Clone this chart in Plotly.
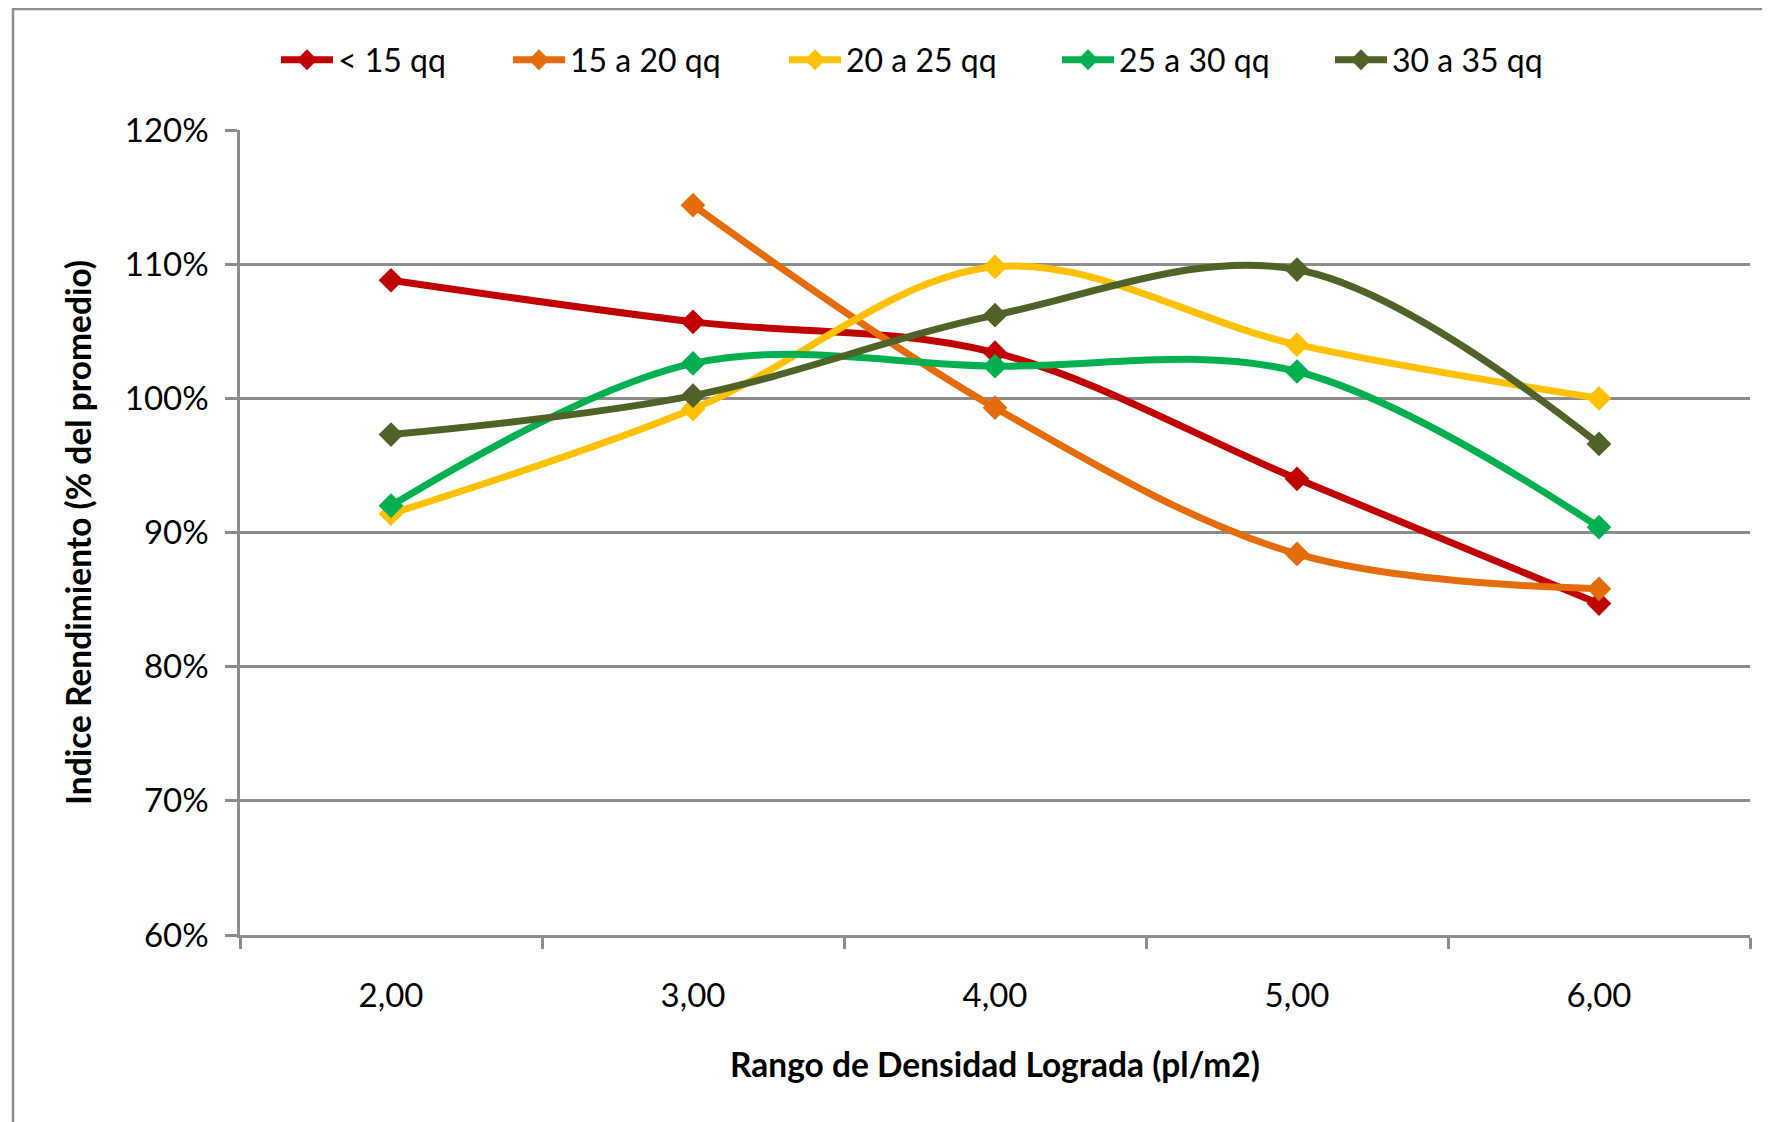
import plotly.graph_objects as go

categories = ["2,00", "3,00", "4,00", "5,00", "6,00"]
series_names = ["< 15 qq", "15 a 20 qq", "20 a 25 qq", "25 a 30 qq", "30 a 35 qq"]
s_lt15 = [1.088, 1.057, 1.034, 0.940, 0.847]
s_15_20 = [None, 1.144, 0.993, 0.884, 0.858]
s_20_25 = [0.914, 0.992, 1.098, 1.040, 1.000]
s_25_30 = [0.920, 1.026, 1.024, 1.020, 0.904]
s_30_35 = [0.973, 1.002, 1.062, 1.096, 0.966]
colors = ["#C00000", "#E46C0A", "#FFC000", "#00B050", "#4F6228"]
legend_widths = [165, 209, 206, 206, 200]
y_ticks = [0.6, 0.7, 0.8, 0.9, 1.0, 1.1, 1.2]
y_ticktext = ["60%", "70%", "80%", "90%", "100%", "110%", "120%"]

FONT = "Lato"
GRAY = "#8c8c8c"

# plot area in figure pixels
L, R, T, B = 232, 1742, 122, 927
PW, PH = R - L, B - T

fig = go.Figure()
for name, vals, col, lw in zip(series_names, [s_lt15, s_15_20, s_20_25, s_25_30, s_30_35], colors, legend_widths):
    fig.add_trace(go.Scatter(
        x=categories, y=vals, name=name, mode="lines+markers",
        line=dict(color=col, width=7, shape="spline", smoothing=1.0),
        marker=dict(symbol="diamond", size=19, color=col),
        connectgaps=False, legendwidth=lw,
    ))

fig.update_layout(
    width=1770, height=1122,
    margin=dict(l=L, r=1770 - R, t=T, b=1122 - B, autoexpand=False),
    paper_bgcolor="white", plot_bgcolor="white",
    font=dict(family=FONT, size=32, color="black"),
    showlegend=True,
    legend=dict(orientation="h", x=(268 - L) / PW, xanchor="left", y=1.087, yanchor="middle",
                font=dict(family=FONT, size=32, color="black"),
                itemwidth=52, bgcolor="rgba(0,0,0,0)", traceorder="normal"),
    xaxis=dict(
        type="category", categoryorder="array", categoryarray=categories,
        range=[-0.5, 4.5], showgrid=False, zeroline=False,
        showline=True, linecolor=GRAY, linewidth=2.5,
        ticks="outside", tickson="boundaries", ticklen=11, tickcolor=GRAY, tickwidth=2.5,
        ticklabelstandoff=30,
        tickfont=dict(family=FONT, size=33, color="black"),
        title=dict(text="<b>Rango de Densidad Lograda (pl/m2)</b>", standoff=41,
                   font=dict(family=FONT, size=33.5, color="black")),
    ),
    yaxis=dict(
        range=[0.6, 1.2], tickvals=y_ticks, ticktext=y_ticktext,
        showgrid=True, gridcolor=GRAY, gridwidth=2.5, zeroline=False,
        showline=True, linecolor=GRAY, linewidth=2.5,
        ticks="outside", ticklen=12, tickcolor=GRAY, tickwidth=2.5,
        ticklabelstandoff=10,
        tickfont=dict(family=FONT, size=33, color="black"),
        title=dict(text="<b>Indice Rendimiento (% del promedio)</b>", standoff=24,
                   font=dict(family=FONT, size=33.5, color="black")),
    ),
    shapes=[dict(type="rect", xref="paper", yref="paper",
                 x0=(5 - L) / PW, x1=(1790 - L) / PW,
                 y0=(B - 1140) / PH, y1=(B - 1) / PH,
                 line=dict(color=GRAY, width=2.5), fillcolor="rgba(0,0,0,0)", layer="below")],
)

fig.write_html("out.html")
